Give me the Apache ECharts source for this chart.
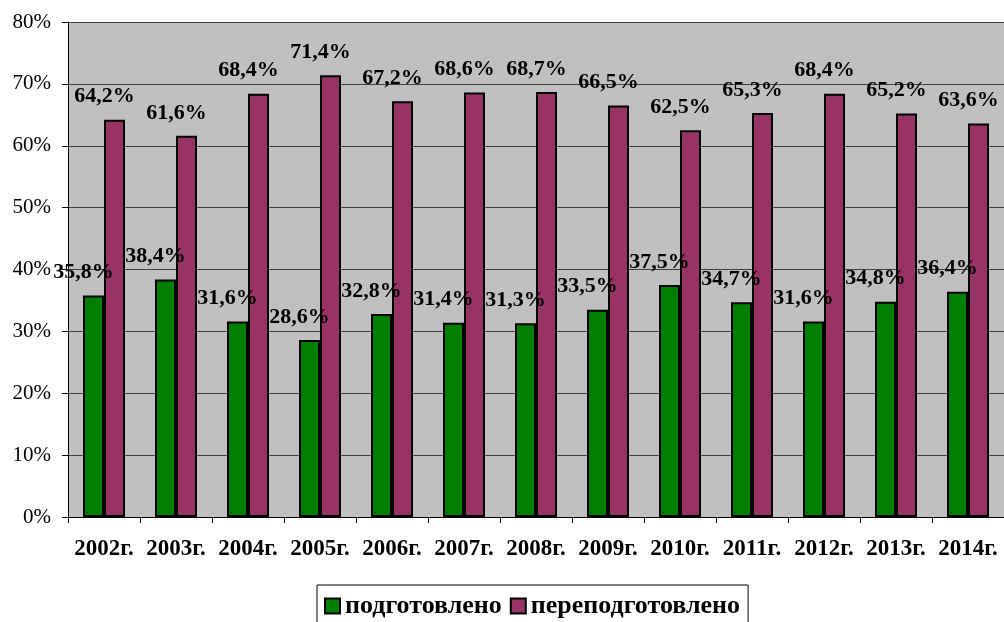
<!DOCTYPE html>
<html>
<head>
<meta charset="utf-8">
<script src="https://cdn.jsdelivr.net/npm/echarts@6/dist/echarts.min.js"></script>
<style>
  html, body { margin: 0; padding: 0; background: #fff; }
  #chart { width: 1004px; height: 622px; }
</style>
</head>
<body>
<div id="chart"></div>
<script>
const years = ['2002г.', '2003г.', '2004г.', '2005г.', '2006г.', '2007г.', '2008г.',
  '2009г.', '2010г.', '2011г.', '2012г.', '2013г.', '2014г.'];
const trained = [35.8, 38.4, 31.6, 28.6, 32.8, 31.4, 31.3, 33.5, 37.5, 34.7, 31.6, 34.8, 36.4];
const retrained = [64.2, 61.6, 68.4, 71.4, 67.2, 68.6, 68.7, 66.5, 62.5, 65.3, 68.4, 65.2, 63.6];
const seriesNames = ['подготовлено', 'переподготовлено'];

const serif = '"Liberation Serif", "Times New Roman", serif';

const chart = echarts.init(document.getElementById('chart'));

function pct(p) {
  return p.value.toFixed(1).replace('.', ',') + '%';
}

const labelStyle = {
  show: true,
  position: 'top',
  distance: 4,
  offset: [-10, -8],
  formatter: pct,
  fontFamily: serif,
  fontWeight: 'bold',
  fontSize: 22,
  color: '#000'
};

chart.setOption({
  animation: false,
  textStyle: { fontFamily: serif },
  grid: {
    left: 68, right: 0, top: 22, bottom: 105,
    show: true, backgroundColor: '#c0c0c0', borderWidth: 0
  },
  legend: {
    data: seriesNames,
    left: 317, top: 585,
    padding: [8, 8, 8, 7],
    itemGap: 8,
    itemWidth: 15, itemHeight: 15,
    icon: 'rect',
    borderColor: '#000', borderWidth: 1,
    textStyle: { fontFamily: serif, fontWeight: 'bold', fontSize: 26, color: '#000' }
  },
  xAxis: {
    type: 'category',
    data: years,
    axisLine: { lineStyle: { color: '#000', width: 1 } },
    axisTick: { show: true, length: 6, lineStyle: { color: '#000' } },
    axisLabel: {
      margin: 21, interval: 0,
      fontFamily: serif, fontWeight: 'bold', fontSize: 23, color: '#000'
    }
  },
  yAxis: {
    type: 'value',
    min: 0, max: 80, interval: 10,
    axisLine: { show: true, lineStyle: { color: '#000', width: 1 } },
    axisTick: { show: true, length: 6, lineStyle: { color: '#000' } },
    splitLine: { lineStyle: { color: '#404040', width: 1 } },
    axisLabel: {
      formatter: '{value}%', margin: 17,
      fontFamily: serif, fontSize: 21, color: '#000'
    }
  },
  series: [
    {
      name: seriesNames[0],
      type: 'bar',
      data: trained,
      barWidth: 21,
      barGap: '0%',
      itemStyle: { color: '#008000', borderColor: '#000', borderWidth: 2 },
      label: labelStyle
    },
    {
      name: seriesNames[1],
      type: 'bar',
      data: retrained,
      barWidth: 21,
      itemStyle: { color: '#993366', borderColor: '#000', borderWidth: 2 },
      label: labelStyle
    }
  ]
});
</script>
</body>
</html>
